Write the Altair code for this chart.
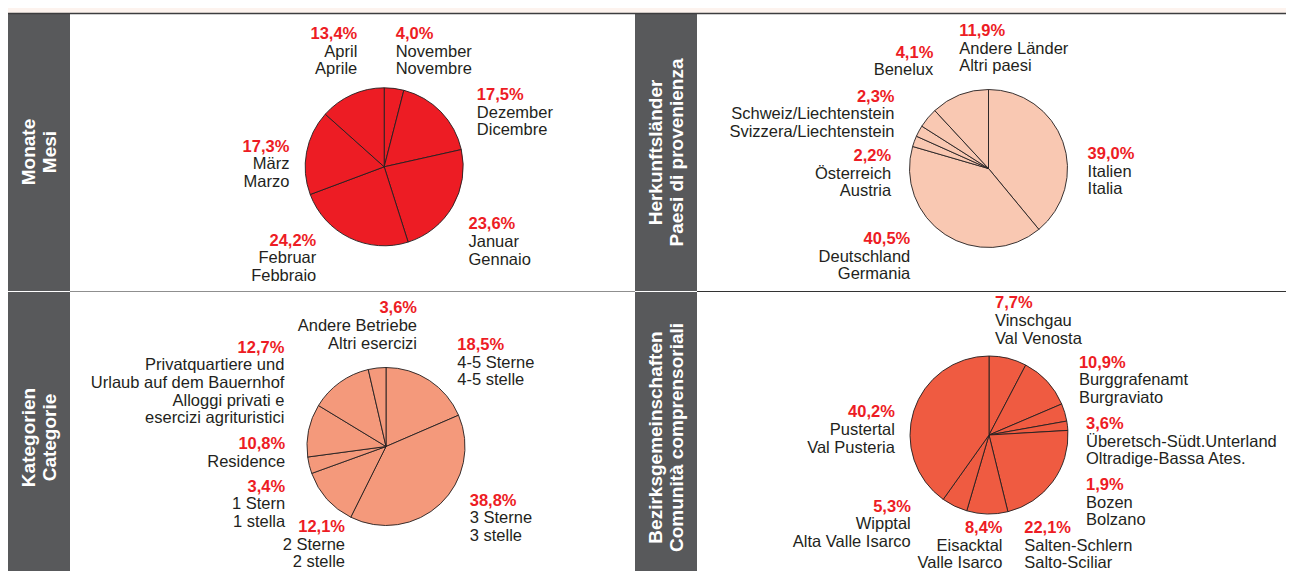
import altair as alt
import pandas as pd

# ------------------------------------------------------------------ data
MONTH_DE = ["November", "Dezember", "Januar", "Februar", "März", "April"]
MONTH_IT = ["Novembre", "Dicembre", "Gennaio", "Febbraio", "Marzo", "Aprile"]
MONTH_VAL = [4.0, 17.5, 23.6, 24.2, 17.3, 13.4]

COUNTRY_DE = ["Italien", "Deutschland", "Österreich", "Schweiz/Liechtenstein", "Benelux", "Andere Länder"]
COUNTRY_IT = ["Italia", "Germania", "Austria", "Svizzera/Liechtenstein", "", "Altri paesi"]
COUNTRY_VAL = [39.0, 40.5, 2.2, 2.3, 4.1, 11.9]

CAT_DE = ["4-5 Sterne", "3 Sterne", "2 Sterne", "1 Stern", "Residence",
          "Privatquartiere und\nUrlaub auf dem Bauernhof", "Andere Betriebe"]
CAT_IT = ["4-5 stelle", "3 stelle", "2 stelle", "1 stella", "",
          "Alloggi privati e\nesercizi agrituristici", "Altri esercizi"]
CAT_VAL = [18.5, 38.8, 12.1, 3.4, 10.8, 12.7, 3.6]

DIST_DE = ["Vinschgau", "Burggrafenamt", "Überetsch-Südt.Unterland", "Bozen",
           "Salten-Schlern", "Eisacktal", "Wipptal", "Pustertal"]
DIST_IT = ["Val Venosta", "Burgraviato", "Oltradige-Bassa Ates.", "Bolzano",
           "Salto-Sciliar", "Valle Isarco", "Alta Valle Isarco", "Val Pusteria"]
DIST_VAL = [7.7, 10.9, 3.6, 1.9, 22.1, 8.4, 5.3, 40.2]

PANEL_TITLES = ["Monate\nMesi", "Herkunftsländer\nPaesi di provenienza",
                "Kategorien\nCategorie", "Bezirksgemeinschaften\nComunità comprensoriali"]

# ------------------------------------------------------------------ style / layout
OFF = 8                      # page margin
W, H = 1278, 563
RED = "#ed1c24"
INK = "#231f20"
BAR = "#58595b"
PEACH = "#fdf3ee"
FONT = "Liberation Sans"
FS = 16.5
LH = 17.7
R = 79

PIE_COLORS = ["#ed1c24", "#f9c8b2", "#f4997b", "#ef5b41"]
PIE_CENTERS = [(384.2, 166.8), (988.5, 168.5), (386, 446.5), (989, 435)]

# label anchors (align, x, baseline of first line), page coordinates
LABEL_LAYOUT = [
    [("left", 395.7, 39), ("left", 476.8, 100), ("left", 468.5, 229.3),
     ("right", 316.3, 245.7), ("right", 289.4, 151.7), ("right", 357.3, 39)],
    [("left", 1087.6, 159), ("right", 910.3, 244), ("right", 891.1, 161),
     ("right", 894.5, 101.7), ("right", 933.3, 57.7), ("left", 959.2, 36)],
    [("left", 457.3, 350), ("left", 469.7, 505.7), ("right", 345, 532),
     ("right", 285.2, 491.7), ("right", 285.2, 449), ("right", 284.4, 352.7),
     ("right", 417, 313.3)],
    [("left", 995, 308.3), ("left", 1078.9, 367.7), ("left", 1086, 429),
     ("left", 1086, 490), ("left", 1024.2, 533), ("right", 1002.5, 533),
     ("right", 910.8, 511.7), ("right", 894.9, 417.3)],
]


def px(v):
    return v - OFF


NX = dict(scale=None, axis=None)

layers = []

# panel backgrounds and side bars
rect_df = pd.DataFrame([
    dict(x=70, x2=635, y=14, y2=579, c="#ffffff"),
    dict(x=697, x2=1300, y=14, y2=579, c="#ffffff"),
    dict(x=7, x2=70, y=13, y2=579, c=BAR),
    dict(x=635, x2=697, y=13, y2=579, c=BAR),
])
for col in ["x", "x2", "y", "y2"]:
    rect_df[col] = rect_df[col] - OFF
layers.append(
    alt.Chart(rect_df).mark_rect().encode(
        x=alt.X("x:Q", **NX), x2="x2:Q", y=alt.Y("y:Q", **NX), y2="y2:Q",
        color=alt.Color("c:N", scale=None),
    )
)

# separator lines
rule_df = pd.DataFrame([
    dict(x=7, x2=1300, y=13.5, c="#3d3d3f", w=1.6),
    dict(x=70, x2=635, y=291.5, c="#8f8f8f", w=1.2),
    dict(x=697, x2=1300, y=291.5, c="#333333", w=1.2),
    dict(x=7, x2=70, y=291.5, c="#ffffff", w=1.2),
    dict(x=635, x2=697, y=291.5, c="#ffffff", w=1.2),
])
for col in ["x", "x2", "y"]:
    rule_df[col] = rule_df[col] - OFF
layers.append(
    alt.Chart(rule_df).mark_rule().encode(
        x=alt.X("x:Q", **NX), x2="x2:Q", y=alt.Y("y:Q", **NX),
        color=alt.Color("c:N", scale=None),
        strokeWidth=alt.StrokeWidth("w:Q", scale=None),
    )
)

# pies
ALL_VALS = [MONTH_VAL, COUNTRY_VAL, CAT_VAL, DIST_VAL]
ALL_DE = [MONTH_DE, COUNTRY_DE, CAT_DE, DIST_DE]
ALL_IT = [MONTH_IT, COUNTRY_IT, CAT_IT, DIST_IT]

for vals, color, (cx, cy) in zip(ALL_VALS, PIE_COLORS, PIE_CENTERS):
    df = pd.DataFrame({"v": vals, "i": list(range(len(vals)))})
    layers.append(
        alt.Chart(df).mark_arc(radius=R, fill=color, stroke=INK, strokeWidth=0.9).encode(
            theta=alt.Theta("v:Q", stack=True),
            order=alt.Order("i:Q"),
            detail="i:N",
            x=alt.value(px(cx)),
            y=alt.value(px(cy)),
        )
    )

# labels
rows = []
for vals, de, it, lay in zip(ALL_VALS, ALL_DE, ALL_IT, LABEL_LAYOUT):
    for v, d, t, (al, x, y) in zip(vals, de, it, lay):
        name = d if not t else d + "\n" + t
        rows.append(dict(
            pct=f"{v:.1f}%".replace(".", ","), name=name, align=al,
            x=px(x), y=px(y), y2=px(y) + LH,
        ))
lab = pd.DataFrame(rows)

for al in ["left", "right"]:
    sub = lab[lab["align"] == al]
    layers.append(
        alt.Chart(sub).mark_text(
            align=al, baseline="alphabetic", font=FONT, fontSize=FS,
            fontWeight="bold", color=RED,
        ).encode(x=alt.X("x:Q", **NX), y=alt.Y("y:Q", **NX), text="pct:N")
    )
    layers.append(
        alt.Chart(sub).mark_text(
            align=al, baseline="alphabetic", font=FONT, fontSize=FS,
            color=INK, lineBreak="\n", lineHeight=LH,
        ).encode(x=alt.X("x:Q", **NX), y=alt.Y("y2:Q", **NX), text="name:N")
    )

# side bar titles (rotated)
side_df = pd.DataFrame({
    "t": PANEL_TITLES,
    "x": [px(34.8), px(662), px(34.8), px(662)],
    "y": [px(152), px(152.5), px(437.5), px(437.5)],
})
layers.append(
    alt.Chart(side_df).mark_text(
        angle=270, align="center", baseline="alphabetic", lineBreak="\n",
        lineHeight=21, fontSize=19, fontWeight="bold", color="#ffffff", font=FONT,
    ).encode(x=alt.X("x:Q", **NX), y=alt.Y("y:Q", **NX), text="t:N")
)

chart = (
    alt.layer(*layers)
    .resolve_scale(theta="independent")
    .properties(width=W, height=H, padding=0, autosize="none", background=PEACH)
    .configure_view(stroke=None)
)

chart.save("out.html", embed_options={"renderer": "svg", "actions": False})
